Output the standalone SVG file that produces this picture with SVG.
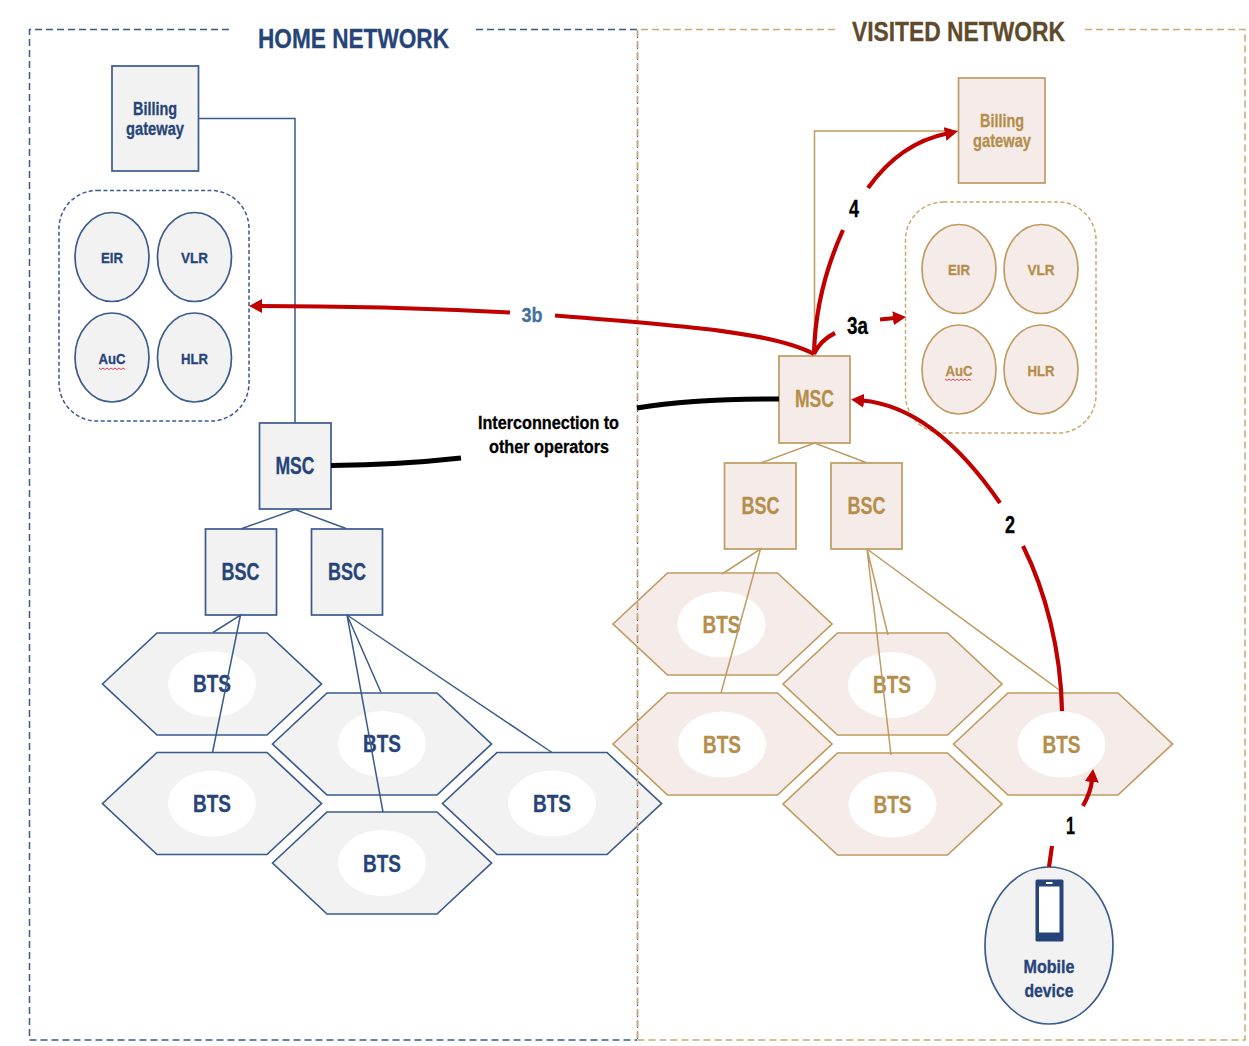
<svg xmlns="http://www.w3.org/2000/svg" width="1249" height="1046" viewBox="0 0 1249 1046">
<style>
text{font-family:"Liberation Sans",Arial,sans-serif;font-weight:700;text-anchor:middle;stroke-width:.3}
.h{fill:#F2F2F2;stroke:#3A5A8C;stroke-width:1.7}
.v{fill:#F5ECE9;stroke:#BF9B62;stroke-width:1.7}
.ht{fill:#264478;stroke:#264478}
.vt{fill:#B58E4B;stroke:#B58E4B}
.el{fill:#fff}
.lh{fill:none;stroke:#3A5A8C;stroke-width:1.5}
.lv{fill:none;stroke:#BF9B62;stroke-width:1.5}
.dh{fill:none;stroke:#3A5A8C;stroke-width:1.5;stroke-dasharray:7 4}
.dv{fill:none;stroke:#C9A871;stroke-width:1.5;stroke-dasharray:7 4}
.r{fill:none;stroke:#C00000;stroke-width:4.2}
.k{fill:none;stroke:#000;stroke-width:5}
.sq{fill:none;stroke:#E8304A;stroke-width:.9}
.s15{font-size:15.5px}.s17{font-size:17.5px}.s22{font-size:23px}.s18{font-size:18px}.n{font-size:23px;fill:#000;stroke:#000}
</style>
<defs>
<marker id="a" markerUnits="userSpaceOnUse" markerWidth="14" markerHeight="16" viewBox="0 0 14 16" refX="2" refY="8" orient="auto"><path d="M0 1L13 8L0 15z" fill="#C00000"/></marker>
<polygon id="hex" points="-109.500,0 -55,-51 55,-51 109.500,0 55,51 -55,51"/>
</defs>
<g id="home-bts-1"><use href="#hex" x="212" y="684" class="h"/><ellipse class="el" cx="212" cy="684" rx="44" ry="33"/><text class="ht s22" x="212" y="692" textLength="38" lengthAdjust="spacingAndGlyphs">BTS</text></g>
<g id="home-bts-2"><use href="#hex" x="212" y="803.500" class="h"/><ellipse class="el" cx="212" cy="803.500" rx="44" ry="33"/><text class="ht s22" x="212" y="812" textLength="38" lengthAdjust="spacingAndGlyphs">BTS</text></g>
<g id="home-bts-3"><use href="#hex" x="382" y="744" class="h"/><ellipse class="el" cx="382" cy="744" rx="44" ry="33"/><text class="ht s22" x="382" y="752" textLength="38" lengthAdjust="spacingAndGlyphs">BTS</text></g>
<g id="home-bts-4"><use href="#hex" x="382" y="863" class="h"/><ellipse class="el" cx="382" cy="863" rx="44" ry="33"/><text class="ht s22" x="382" y="872" textLength="38" lengthAdjust="spacingAndGlyphs">BTS</text></g>
<g id="home-bts-5"><use href="#hex" x="552" y="803.500" class="h"/><ellipse class="el" cx="552" cy="803.500" rx="44" ry="33"/><text class="ht s22" x="552" y="812" textLength="38" lengthAdjust="spacingAndGlyphs">BTS</text></g>
<g id="home-billing"><rect class="h" x="112" y="66" width="86.500" height="105"/><text class="ht s17" x="155" y="115" textLength="44" lengthAdjust="spacingAndGlyphs">Billing</text><text class="ht s17" x="155" y="134.500" textLength="58" lengthAdjust="spacingAndGlyphs">gateway</text></g>
<g id="home-db"><rect class="dh" x="59" y="190.500" width="190" height="230.500" rx="38" style="stroke-dasharray:4 2.500"/>
<ellipse class="h" cx="112" cy="257" rx="37" ry="44.500"/><text class="ht s15" x="112" y="263" textLength="22" lengthAdjust="spacingAndGlyphs">EIR</text>
<ellipse class="h" cx="194.500" cy="257" rx="37" ry="44.500"/><text class="ht s15" x="194.500" y="263" textLength="27" lengthAdjust="spacingAndGlyphs">VLR</text>
<ellipse class="h" cx="112" cy="357.500" rx="37" ry="44.500"/><text class="ht s15" x="112" y="364" textLength="27" lengthAdjust="spacingAndGlyphs">AuC</text><path class="sq" d="M99 368l2 1.500 2-1.500 2 1.500 2-1.500 2 1.500 2-1.500 2 1.500 2-1.500 2 1.500 2-1.500 2 1.500 2-1.500 2 1.500"/>
<ellipse class="h" cx="194.500" cy="357.500" rx="37" ry="44.500"/><text class="ht s15" x="194.500" y="364" textLength="27" lengthAdjust="spacingAndGlyphs">HLR</text></g>
<g id="home-msc"><rect class="h" x="259.500" y="423" width="71.500" height="86"/><text class="ht s22" x="295" y="474" textLength="39" lengthAdjust="spacingAndGlyphs">MSC</text></g>
<g id="home-bsc-1"><rect class="h" x="205.500" y="529" width="71" height="86"/><text class="ht s22" x="240.500" y="580" textLength="38" lengthAdjust="spacingAndGlyphs">BSC</text></g>
<g id="home-bsc-2"><rect class="h" x="311.500" y="529" width="71" height="86"/><text class="ht s22" x="347" y="580" textLength="38" lengthAdjust="spacingAndGlyphs">BSC</text></g>
<g id="visited-bts-1"><use href="#hex" x="722.500" y="624" class="v"/><ellipse class="el" cx="721.500" cy="624.500" rx="44" ry="33"/><text class="vt s22" x="721.500" y="632.500" textLength="38" lengthAdjust="spacingAndGlyphs">BTS</text></g>
<g id="visited-bts-2"><use href="#hex" x="722.500" y="744" class="v"/><ellipse class="el" cx="722" cy="744.500" rx="44" ry="33"/><text class="vt s22" x="722" y="752.500" textLength="38" lengthAdjust="spacingAndGlyphs">BTS</text></g>
<g id="visited-bts-3"><use href="#hex" x="892.500" y="684" class="v"/><ellipse class="el" cx="892" cy="685" rx="44" ry="33"/><text class="vt s22" x="892" y="692.500" textLength="38" lengthAdjust="spacingAndGlyphs">BTS</text></g>
<g id="visited-bts-4"><use href="#hex" x="892.500" y="804" class="v"/><ellipse class="el" cx="892.500" cy="804.500" rx="44" ry="33"/><text class="vt s22" x="892.500" y="812.500" textLength="38" lengthAdjust="spacingAndGlyphs">BTS</text></g>
<g id="visited-bts-5"><use href="#hex" x="1063" y="744" class="v"/><ellipse class="el" cx="1061.500" cy="744.500" rx="44" ry="33"/><text class="vt s22" x="1061.500" y="752.500" textLength="38" lengthAdjust="spacingAndGlyphs">BTS</text></g>
<g id="visited-billing"><rect class="v" x="958.500" y="78" width="86.500" height="105"/><text class="vt s17" x="1002" y="127" textLength="44" lengthAdjust="spacingAndGlyphs">Billing</text><text class="vt s17" x="1002" y="146.500" textLength="58" lengthAdjust="spacingAndGlyphs">gateway</text></g>
<g id="visited-db"><rect class="dv" x="905.500" y="202" width="190.500" height="231" rx="38" style="stroke-dasharray:4 2.500"/>
<ellipse class="v" cx="959" cy="269" rx="37" ry="44.500"/><text class="vt s15" x="959" y="275" textLength="22" lengthAdjust="spacingAndGlyphs">EIR</text>
<ellipse class="v" cx="1041" cy="269" rx="37" ry="44.500"/><text class="vt s15" x="1041" y="275" textLength="27" lengthAdjust="spacingAndGlyphs">VLR</text>
<ellipse class="v" cx="959" cy="369.500" rx="37" ry="44.500"/><text class="vt s15" x="959" y="375.500" textLength="27" lengthAdjust="spacingAndGlyphs">AuC</text><path class="sq" d="M945 379l2 1.500 2-1.500 2 1.500 2-1.500 2 1.500 2-1.500 2 1.500 2-1.500 2 1.500 2-1.500 2 1.500 2-1.500 2 1.500"/>
<ellipse class="v" cx="1041" cy="369.500" rx="37" ry="44.500"/><text class="vt s15" x="1041" y="375.500" textLength="27" lengthAdjust="spacingAndGlyphs">HLR</text></g>
<g id="visited-msc"><rect class="v" x="779" y="356" width="71" height="87"/><text class="vt s22" x="814.500" y="407" textLength="39" lengthAdjust="spacingAndGlyphs">MSC</text></g>
<g id="visited-bsc-1"><rect class="v" x="724.500" y="463" width="71.500" height="86"/><text class="vt s22" x="760.500" y="514" textLength="38" lengthAdjust="spacingAndGlyphs">BSC</text></g>
<g id="visited-bsc-2"><rect class="v" x="831" y="463" width="71" height="86"/><text class="vt s22" x="866.500" y="514" textLength="38" lengthAdjust="spacingAndGlyphs">BSC</text></g>
<g id="mobile-device"><ellipse class="h" cx="1049" cy="945.500" rx="64" ry="78.500"/><rect x="1035.500" y="879.500" width="28" height="62" rx="1.500" fill="#264478"/><rect x="1039" y="886.500" width="20.500" height="46" fill="#fff"/><rect x="1046" y="882" width="6.500" height="2" fill="#fff"/><text class="ht s18" x="1049" y="973" textLength="51" lengthAdjust="spacingAndGlyphs">Mobile</text><text class="ht s18" x="1049" y="997" textLength="49" lengthAdjust="spacingAndGlyphs">device</text></g>
<g id="network-frames">
<path class="dh" d="M229 29.500H29.500V1040H637"/>
<path class="dh" d="M476 29.500H637"/>
<path class="dh" d="M637.500 31V1040" style="stroke-width:1.200"/>
<path class="dv" d="M835 29.500H638"/>
<path class="dv" d="M637.500 30V1040" style="stroke-width:1.600"/>
<path class="dv" d="M637.500 1040H1245V29.500H1082"/>
<text x="353.500" y="48" font-size="27" fill="#264478" stroke="#264478" textLength="191" lengthAdjust="spacingAndGlyphs">HOME NETWORK</text>
<text x="958.500" y="41" font-size="27" fill="#5F4A2B" stroke="#5F4A2B" textLength="213" lengthAdjust="spacingAndGlyphs">VISITED NETWORK</text>
</g>
<g id="connectors">
<path class="lh" d="M198.500 118.500H295V423"/>
<path class="lh" d="M242 528.500L295 509.500L346 528.500"/>
<path class="lh" d="M213 632.500L240.500 615L212.500 752.500"/>
<path class="lh" d="M381 692.500L347 615L383 812"/>
<path class="lh" d="M347 615L552 752.500"/>
<path class="lv" d="M958 131H814.500V356"/>
<path class="lv" d="M762 462.500L814.500 443L866 462.500"/>
<path class="lv" d="M722 574L760.500 549L721 693"/>
<path class="lv" d="M888 635L867 549L891 755"/>
<path class="lv" d="M867 549L1062 692"/>
<path class="k" d="M779 399C725 399 680 401 637 408"/>
<path class="k" d="M331 465.500C380 465 425 462 461 458"/>
<path class="r" d="M814 354C775 333 690 326 555 315.500"/>
<path class="r" d="M510 312.500C420 308 340 306 260 306" marker-end="url(#a)"/>
<path class="r" d="M814 354C815 310 825 270 843 230"/>
<path class="r" d="M868 188C888 160 915 140 947 133.500" marker-end="url(#a)"/>
<path class="r" d="M814 354C818 345 825 338 835 333"/>
<path class="r" d="M880 319.500L895 318" marker-end="url(#a)"/>
<path class="r" d="M1062 711C1061 650 1045 590 1023 546"/>
<path class="r" d="M1000 503C960 445 915 405 862 400.500" marker-end="url(#a)"/>
<path class="r" d="M1049 867L1052 846"/>
<path class="r" d="M1083 806C1088 797 1091 790 1092 780" marker-end="url(#a)"/>
<text x="532" y="322" font-size="21" fill="#41719C" stroke="#41719C" textLength="21" lengthAdjust="spacingAndGlyphs">3b</text>
<text class="n" x="854" y="216.500" textLength="10" lengthAdjust="spacingAndGlyphs">4</text>
<text class="n" x="857.500" y="333.500" textLength="21" lengthAdjust="spacingAndGlyphs">3a</text>
<text class="n" x="1010" y="532.500" textLength="10" lengthAdjust="spacingAndGlyphs">2</text>
<text class="n" x="1070.500" y="833.500" textLength="9" lengthAdjust="spacingAndGlyphs">1</text>
<text x="548.500" y="428.500" font-size="18" fill="#000" stroke="#000" textLength="141" lengthAdjust="spacingAndGlyphs">Interconnection to</text>
<text x="549" y="452.500" font-size="18" fill="#000" stroke="#000" textLength="120" lengthAdjust="spacingAndGlyphs">other operators</text>
</g>
</svg>
